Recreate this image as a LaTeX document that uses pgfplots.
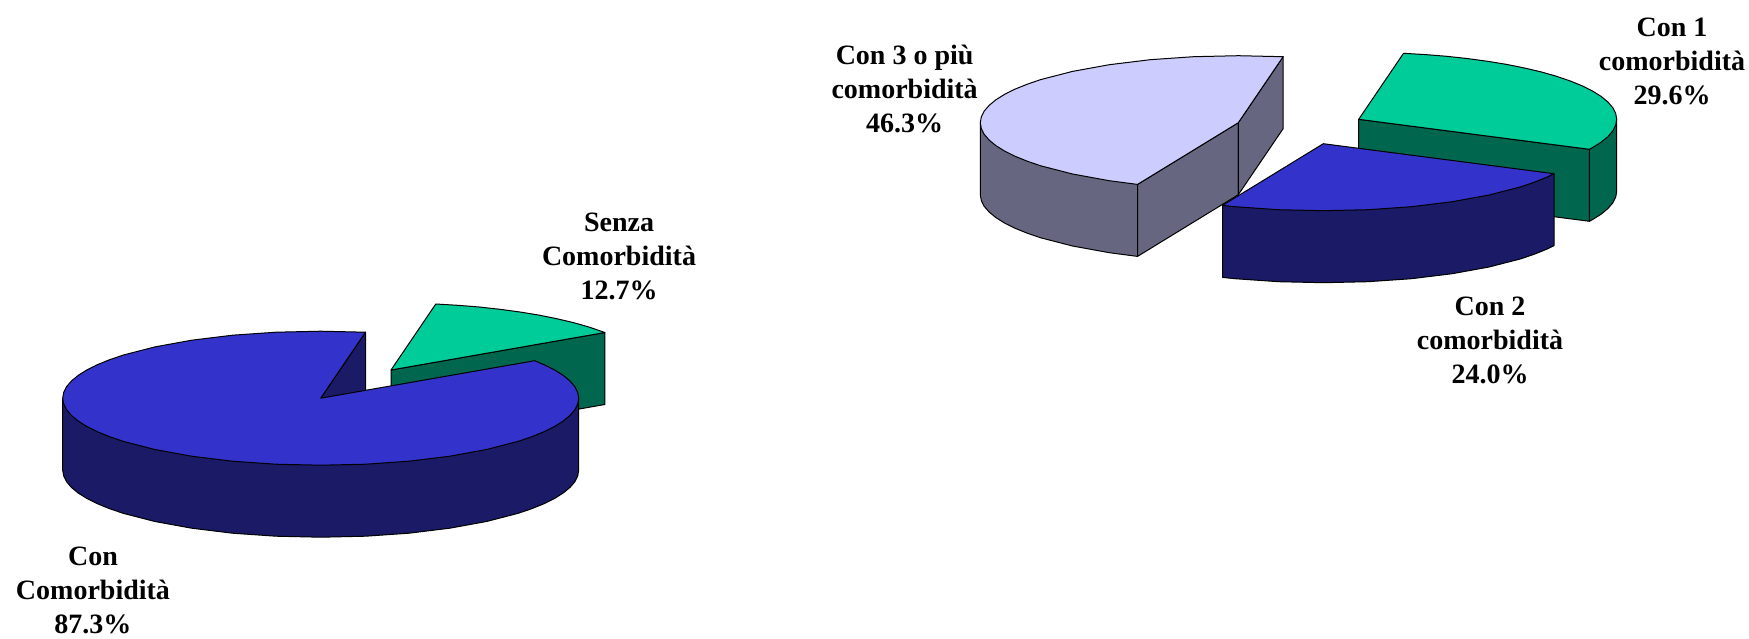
\documentclass[border=0pt]{standalone}
\usepackage{fontspec}
\setmainfont{Liberation Serif}
\usepackage{pgfplots}
\pgfplotsset{compat=1.18}
\definecolor{cgreen}{HTML}{00CC99}
\definecolor{cgreend}{HTML}{00664D}
\definecolor{cblue}{HTML}{3333CC}
\definecolor{cblued}{HTML}{1A1A66}
\definecolor{clight}{HTML}{CCCCFF}
\definecolor{clightd}{HTML}{666680}
\tikzset{lab/.style={align=center, font=\fontsize{28}{34}\selectfont\bfseries, inner sep=0pt}}

\begin{document}
\begin{tikzpicture}
% hide axis adds nothing to the page size, so fix it by hand
\path (0,0) rectangle (1749pt,638pt);
\begin{axis}[
    at={(0,0)}, anchor=south west,
    scale only axis,
    width=1749pt,
    height=638pt,
    xmin=0, xmax=1749,
    ymin=0, ymax=638,
    y dir=reverse,
    hide axis,
    clip=false,
    every axis plot/.append style={draw=black, line width=1pt, line join=round, mark=none},
]
% left pie: green slice
\addplot[fill=cgreend] coordinates {
    (391,370) (604.9,332.5) (604.9,404.5) (391,442)
} -- cycle;
\addplot[fill=cgreen] coordinates {
    (391,370) (435.8,304) (457.8,305.3) (479.2,307) (500,309.3) (520,312)
    (539,315.1) (556.8,318.7) (573.4,322.6) (588.6,326.9) (602.3,331.6) (604.9,332.5)
} -- cycle;
% left pie: blue slice
\addplot[fill=cblued] coordinates {
    (62.7,398.2) (62.7,470.2) (63.7,476) (66.6,481.8) (71.5,487.5) (78.3,493.1)
    (86.9,498.5) (97.3,503.7) (109.4,508.6) (123.1,513.3) (154.9,521.5) (191.7,528.2)
    (232.5,533.2) (275.9,536.2) (320.7,537.2) (365.5,536.2) (408.9,533.2) (449.7,528.2)
    (486.5,521.5) (518.3,513.3) (532,508.6) (544.1,503.7) (554.5,498.5) (563.1,493.1)
    (569.9,487.5) (574.8,481.8) (577.7,476) (578.7,470.2) (578.7,398.2)
} -- cycle;
\addplot[fill=cblued] coordinates {
    (320.7,398.2) (365.5,332.2) (365.5,400) (320.7,405)
} -- cycle;
\addplot[fill=cblue] coordinates {
    (320.7,398.2) (534.6,360.7) (544.1,364.7) (554.5,369.9) (563.1,375.3) (569.9,380.9)
    (574.8,386.6) (577.7,392.4) (578.7,398.2) (577.7,404) (574.8,409.8) (569.9,415.5)
    (563.1,421.1) (554.5,426.5) (544.1,431.7) (532,436.6) (518.3,441.3) (486.5,449.5)
    (449.7,456.2) (408.9,461.2) (365.5,464.2) (320.7,465.2) (275.9,464.2) (232.5,461.2)
    (191.7,456.2) (154.9,449.5) (123.1,441.3) (109.4,436.6) (97.3,431.7) (86.9,426.5)
    (78.3,421.1) (71.5,415.5) (66.6,409.8) (63.7,404) (62.7,398.2) (63.7,392.4)
    (66.6,386.6) (71.5,380.9) (78.3,375.3) (86.9,369.9) (97.3,364.7) (109.4,359.8)
    (123.1,355.1) (154.9,346.9) (191.7,340.2) (232.5,335.2) (275.9,332.2) (320.7,331.2)
    (365.5,332.2)
} -- cycle;
% right pie: light slice
\addplot[fill=clightd] coordinates {
    (980.3,122.7) (980.3,194.7) (981.3,200.5) (984.2,206.3) (989.1,212) (995.9,217.6)
    (1004.5,223) (1014.9,228.2) (1027,233.1) (1040.7,237.8) (1072.5,246) (1109.3,252.7)
    (1137.5,256.4) (1137.5,184.4)
} -- cycle;
\addplot[fill=clightd] coordinates {
    (1137.5,184.4) (1238.3,122.7) (1238.3,194.7) (1137.5,256.4)
} -- cycle;
\addplot[fill=clightd] coordinates {
    (1238.3,122.7) (1283.1,56.7) (1283.1,128.7) (1238.3,194.7)
} -- cycle;
\addplot[fill=clight] coordinates {
    (1238.3,122.7) (1137.5,184.4) (1109.3,180.7) (1072.5,174) (1040.7,165.8) (1027,161.1)
    (1014.9,156.2) (1004.5,151) (995.9,145.6) (989.1,140) (984.2,134.3) (981.3,128.5)
    (980.3,122.7) (981.3,116.9) (984.2,111.1) (989.1,105.4) (995.9,99.8) (1004.5,94.4)
    (1014.9,89.2) (1027,84.3) (1040.7,79.6) (1072.5,71.4) (1109.3,64.7) (1150.1,59.7)
    (1193.5,56.7) (1238.3,55.7) (1283.1,56.7)
} -- cycle;
% right pie: green slice
\addplot[fill=cgreend] coordinates {
    (1616.7,119.3) (1616.7,191.3) (1615.7,197.1) (1612.8,202.9) (1607.9,208.6)
    (1601.1,214.2) (1592.5,219.6) (1589.4,221.3) (1589.4,149.3)
} -- cycle;
\addplot[fill=cgreend] coordinates {
    (1358.7,119.3) (1589.4,149.3) (1589.4,221.3) (1358.7,191.3)
} -- cycle;
\addplot[fill=cgreen] coordinates {
    (1358.7,119.3) (1403.5,53.3) (1425.5,54.6) (1446.9,56.3) (1467.7,58.6) (1487.7,61.3)
    (1506.7,64.4) (1524.5,68) (1541.1,71.9) (1556.3,76.2) (1570,80.9) (1582.1,85.8)
    (1592.5,91) (1601.1,96.4) (1607.9,102) (1612.8,107.7) (1615.7,113.5) (1616.7,119.3)
    (1615.7,125.1) (1612.8,130.9) (1607.9,136.6) (1601.1,142.2) (1592.5,147.6) (1589.4,149.3)
} -- cycle;
% right pie: blue slice
\addplot[fill=cblued] coordinates {
    (1554,173.7) (1554,245.7) (1546.7,249.2) (1534.6,254.1) (1520.9,258.8) (1489.1,267)
    (1452.3,273.7) (1411.5,278.7) (1368.1,281.7) (1323.3,282.7) (1278.5,281.7)
    (1235.1,278.7) (1222.5,277.4) (1222.5,205.4)
} -- cycle;
\addplot[fill=cblue] coordinates {
    (1323.3,143.7) (1554,173.7) (1546.7,177.2) (1534.6,182.1) (1520.9,186.8) (1489.1,195)
    (1452.3,201.7) (1411.5,206.7) (1368.1,209.7) (1323.3,210.7) (1278.5,209.7)
    (1235.1,206.7) (1222.5,205.4)
} -- cycle;
% labels
\node[lab] at (axis cs:619,256) {Senza\\Comorbidità\\12.7\%};
\node[lab] at (axis cs:93,590) {Con\\Comorbidità\\87.3\%};
\node[lab] at (axis cs:904.6,89) {Con 3 o più\\comorbidità\\46.3\%};
\node[lab] at (axis cs:1672,61) {Con 1\\comorbidità\\29.6\%};
\node[lab] at (axis cs:1490,340) {Con 2\\comorbidità\\24.0\%};
\end{axis}
\end{tikzpicture}
\end{document}
